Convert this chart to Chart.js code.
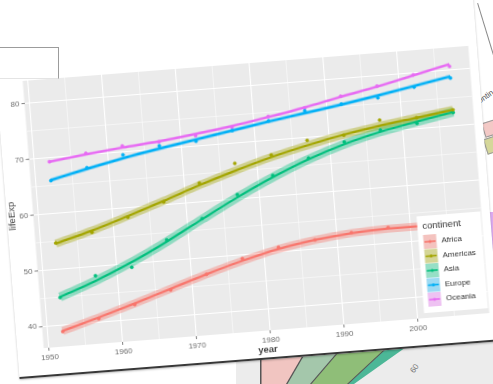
<!DOCTYPE html>
<html>
<head>
<meta charset="utf-8">
<script src="https://cdn.jsdelivr.net/npm/chart.js@4.4.1/dist/chart.umd.min.js"></script>
<style>
  html, body { margin:0; padding:0; background:#fff; overflow:hidden; }
  body { width:493px; height:384px; position:relative; }
  /* bits of the other photos lying underneath */
  .under { position:absolute; left:0; top:0; width:493px; height:384px; z-index:0; }
  .bit { position:absolute; z-index:0; }
  /* the tilted photo of the ggplot figure */
  #photo { position:absolute; left:6px; top:-40px; width:482px; height:400px; box-sizing:border-box; z-index:1;
           background:#fff; border-bottom:2px solid #383838; box-shadow:0 1px 2px rgba(0,0,0,0.25);
           transform-origin:250px 237px; transform:rotate(-4.5deg); }
  #plot { position:absolute; left:-6px; top:60px; width:500px; height:338px; }
  #frame { position:absolute; left:-2px; top:47px; width:59px; height:30px; border:1px solid #9c9c9c; border-bottom-color:#e4e4e4; z-index:2; }
</style>
</head>
<body>
<div class="under" style="background:#ececec; clip-path:polygon(236px 384px, 236px 362px, 493px 330px, 493px 384px);"></div>
<div class="under" style="background:#f1c5c1; clip-path:polygon(261px 384px, 261px 358px, 305px 353px, 287px 384px);"></div>
<div class="under" style="background:#a4c7ab; clip-path:polygon(287px 384px, 305px 353px, 341px 349px, 311px 384px);"></div>
<div class="under" style="background:#8fbe78; clip-path:polygon(311px 384px, 341px 349px, 392px 343px, 348px 384px);"></div>
<div class="under" style="background:#4cb797; clip-path:polygon(348px 384px, 392px 343px, 416px 340px, 354px 384px);"></div>
<div class="under" style="background:#555; clip-path:polygon(260px 384px, 260px 358px, 261.5px 358px, 261.5px 384px);"></div>
<div class="under" style="background:#555; clip-path:polygon(286px 384px, 304px 353px, 305.5px 353px, 287.5px 384px);"></div>
<div class="under" style="background:#555; clip-path:polygon(310px 384px, 340px 349px, 341.5px 349px, 311.5px 384px);"></div>
<div class="under" style="background:#555; clip-path:polygon(347px 384px, 391px 343px, 392.5px 343px, 348.5px 384px);"></div>
<span class="bit" style="left:410px; top:364px; font:8px 'Liberation Sans', Arial, sans-serif; color:#777; transform:rotate(-55deg);">60</span>
<span class="bit" style="left:477px; top:92px; font:8px 'Liberation Sans', Arial, sans-serif; color:#555; transform:rotate(-35deg);">ontin</span>
<div class="bit" style="left:483px; top:121px; width:12px; height:13px; background:#f3c9c6; border:1px solid #9a9a9a; transform:rotate(-18deg);"></div>
<div class="bit" style="left:485px; top:137px; width:12px; height:14px; background:#d5d79a; border:1px solid #9a9a9a; transform:rotate(-18deg);"></div>
<div class="bit" style="left:489px; top:212px; width:8px; height:40px; background:#dcaaf0;"></div>
<div class="bit" style="left:485px; top:2px; width:1px; height:54px; background:#8a8a8a; transform:rotate(-17deg);"></div>

<div id="photo"><div id="plot"><canvas id="lifeChart"></canvas></div></div>
<div id="frame"></div>
<script>
// gapminder: median lifeExp by continent (points) and loess fit
const years = [1952, 1957, 1962, 1967, 1972, 1977, 1982, 1987, 1992, 1997, 2002, 2007];
const continents = ['Africa', 'Americas', 'Asia', 'Europe', 'Oceania'];
const africaMed   = [38.8, 40.6, 42.6, 44.7, 47.0, 49.3, 50.8, 51.6, 52.4, 52.8, 51.2, 52.9];
const americasMed = [54.7, 56.1, 58.3, 60.5, 63.4, 66.4, 67.4, 69.5, 69.9, 72.1, 72.0, 72.9];
const asiaMed     = [44.9, 48.3, 49.3, 53.7, 57.0, 60.8, 63.7, 66.3, 68.7, 70.3, 71.0, 72.4];
const europeMed   = [65.9, 67.7, 69.5, 70.6, 70.9, 72.3, 73.5, 74.8, 75.5, 76.1, 77.5, 78.6];
const oceaniaMed  = [69.3, 70.3, 71.1, 71.3, 71.9, 72.9, 74.3, 75.3, 76.9, 78.2, 79.7, 80.7];
const africaFit   = [38.9, 40.8, 42.8, 44.9, 47.0, 48.9, 50.5, 51.6, 52.3, 52.6, 52.6, 52.7];
const americasFit = [54.6, 56.4, 58.5, 60.7, 63.0, 65.1, 67.0, 68.6, 70.0, 71.1, 72.0, 72.9];
const asiaFit     = [45.0, 47.4, 50.2, 53.4, 56.9, 60.3, 63.4, 66.1, 68.3, 70.0, 71.3, 72.5];
const europeFit   = [66.0, 67.5, 68.9, 70.1, 71.2, 72.3, 73.4, 74.4, 75.4, 76.5, 77.7, 78.9];
const oceaniaFit  = [69.3, 70.1, 70.8, 71.4, 72.2, 73.1, 74.2, 75.4, 76.8, 78.1, 79.6, 81.1];
const xTicks = [1950, 1955, 1960, 1965, 1970, 1975, 1980, 1985, 1990, 1995, 2000, 2005];
const yTicks = [40, 45, 50, 55, 60, 65, 70, 75, 80];

const colors = ['#F8766D', '#A3A500', '#00BF7D', '#00B0F6', '#E76BF3'];
const bandFill = ['rgba(248,118,109,0.38)', 'rgba(163,165,0,0.38)', 'rgba(0,191,125,0.38)', 'rgba(0,176,246,0.35)', 'rgba(231,107,243,0.35)'];
const bandWidth = [8, 8, 9, 4, 3];
const medians = [africaMed, americasMed, asiaMed, europeMed, oceaniaMed];
const fits = [africaFit, americasFit, asiaFit, europeFit, oceaniaFit];

const toXY = arr => arr.map((v, i) => ({x: years[i], y: v}));
const datasets = [];
continents.forEach((name, i) => {
    // ribbon (se band) as a wide translucent stroke under the fit
    datasets.push({label: name + ' se', data: toXY(fits[i]), borderColor: bandFill[i], borderWidth: bandWidth[i],
        cubicInterpolationMode: 'monotone', pointRadius: 0, fill: false, order: 3, borderCapStyle: 'butt'});
    datasets.push({label: name, data: toXY(fits[i]), borderColor: colors[i], borderWidth: 2.2,
        cubicInterpolationMode: 'monotone', pointRadius: 0, fill: false, order: 2});
    datasets.push({label: name + ' pts', data: toXY(medians[i]), showLine: false, pointRadius: 1.6,
        pointBackgroundColor: colors[i], pointBorderColor: colors[i], pointBorderWidth: 0.5, order: 1});
});

const isMajor = v => v % 10 === 0;

const panelBg = {
    id: 'panelBg',
    beforeDraw(chart) {
        const {ctx, chartArea: a} = chart;
        ctx.save();
        ctx.fillStyle = '#EBEBEB';
        ctx.fillRect(a.left, a.top, a.right - a.left, a.bottom - a.top);
        ctx.restore();
    }
};

// ggplot style legend sitting inside the panel, bottom right
const insideLegend = {
    id: 'insideLegend',
    afterDraw(chart) {
        const {ctx, chartArea: a} = chart;
        const w = 64, h = 97;
        const x0 = a.right - 1 - w, y0 = a.bottom - 5 - h;
        ctx.save();
        ctx.fillStyle = '#fff';
        ctx.fillRect(x0, y0, w, h);
        ctx.fillStyle = '#333';
        ctx.font = '9.5px "Liberation Sans", Arial, sans-serif';
        ctx.textBaseline = 'middle';
        ctx.fillText('continent', x0 + 5, y0 + 10);
        continents.forEach((name, i) => {
            const ky = y0 + 19 + i * 14.5, kx = x0 + 5;
            ctx.fillStyle = '#f2f2f2';
            ctx.fillRect(kx, ky, 13, 14);
            ctx.fillStyle = bandFill[i];
            ctx.fillRect(kx, ky, 13, 14);
            ctx.strokeStyle = colors[i];
            ctx.lineWidth = 1.6;
            ctx.beginPath();
            ctx.moveTo(kx + 1, ky + 7);
            ctx.lineTo(kx + 12, ky + 7);
            ctx.stroke();
            ctx.fillStyle = colors[i];
            ctx.beginPath();
            ctx.arc(kx + 6.5, ky + 7, 1.5, 0, Math.PI * 2);
            ctx.fill();
            ctx.fillStyle = '#333';
            ctx.font = '8px "Liberation Sans", Arial, sans-serif';
            ctx.fillText(name, kx + 18, ky + 7);
        });
        ctx.restore();
    }
};

const gridOpts = {
    color: '#ffffff',
    lineWidth: c => (c.tick && isMajor(c.tick.value)) ? 1.1 : 0.5,
    tickColor: c => (c.tick && isMajor(c.tick.value)) ? '#8a8a8a' : 'rgba(0,0,0,0)',
    tickLength: 3,
    drawTicks: true
};
const tickFont = {family: '"Liberation Sans", Arial, sans-serif', size: 8};

new Chart(document.getElementById('lifeChart'), {
    type: 'line',
    data: {datasets: datasets},
    options: {
        responsive: true,
        maintainAspectRatio: false,
        animation: false,
        layout: {padding: {left: 0, top: 43, right: 20.5, bottom: 0}},
        plugins: {legend: {display: false}, tooltip: {enabled: false}},
        scales: {
            x: {
                type: 'linear', min: 1949.25, max: 2009.75,
                afterBuildTicks: s => { s.ticks = xTicks.map(v => ({value: v})); },
                afterFit: s => { s.height = 27; },
                grid: gridOpts,
                border: {display: false},
                ticks: {color: '#6e6e6e', font: tickFont, padding: 2, maxRotation: 0, autoSkip: false,
                        callback: v => isMajor(v) ? String(v) : ''},
                title: {display: true, text: 'year', color: '#444', padding: {top: 0, bottom: 2},
                        font: {family: '"Liberation Sans", Arial, sans-serif', size: 9.5, weight: 'bold'}}
            },
            y: {
                type: 'linear', min: 36.1, max: 84.1,
                afterBuildTicks: s => { s.ticks = yTicks.map(v => ({value: v})); },
                afterFit: s => { s.width = 32.5; },
                grid: gridOpts,
                border: {display: false},
                ticks: {color: '#6e6e6e', font: tickFont, padding: 2, autoSkip: false,
                        callback: v => isMajor(v) ? String(v) : ''},
                title: {display: true, text: 'lifeExp', color: '#444', padding: {top: 6, bottom: 0},
                        font: {family: '"Liberation Sans", Arial, sans-serif', size: 9.5}}
            }
        }
    },
    plugins: [panelBg, insideLegend]
});
</script>
</body>
</html>
